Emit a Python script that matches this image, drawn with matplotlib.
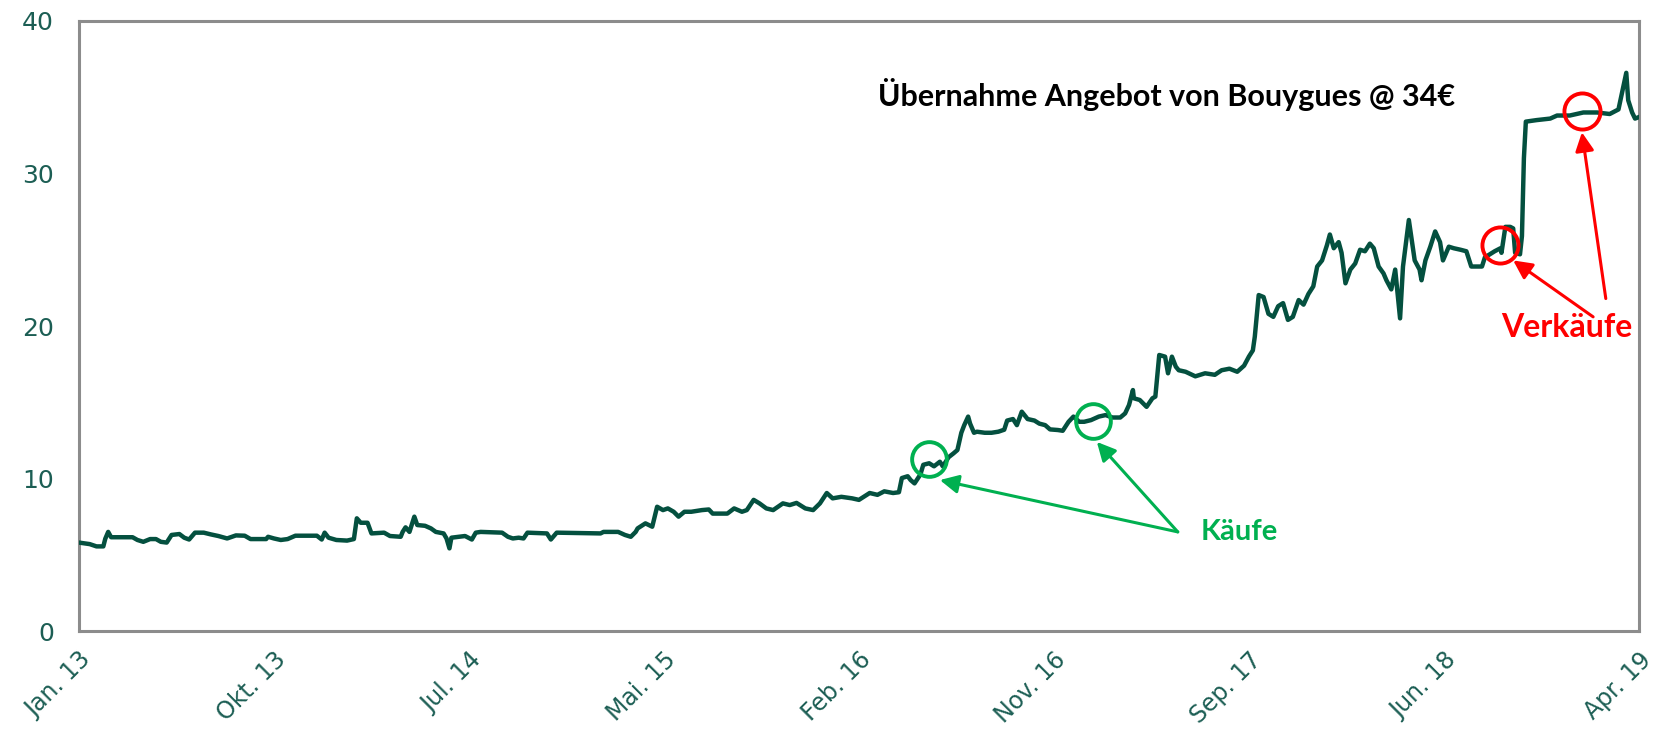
import numpy as np
import matplotlib
matplotlib.use("Agg")
import matplotlib.pyplot as plt

# trading-day index (0 = Jan. 13) and share price in EUR
day = [0, 11, 18, 25, 27, 30, 33, 55, 60, 66, 73, 79, 84, 90, 95, 103, 108, 113, 119, 128,
       135, 143, 152, 161, 170, 176, 192, 194, 200, 207, 214, 222, 244, 249, 252, 256, 264,
       275, 282, 285, 289, 296, 300, 313, 319, 330, 332, 335, 339, 344, 347, 355, 361, 366,
       374, 377, 380, 382, 396, 403, 407, 412, 434, 440, 445, 451, 456, 460, 480, 484, 490,
       535, 538, 553, 560, 566, 571,
       573, 581, 588, 593, 599, 604, 610, 615, 621, 628, 639, 646, 650, 665, 672, 680, 685,
       692, 698, 705, 712, 722, 729, 736, 745, 753, 760, 767, 773, 782, 793, 800, 811, 819,
       826, 835, 841, 844, 850, 853, 857, 863, 866, 872, 877, 883, 886, 890, 892, 897, 901,
       905, 908, 912, 914, 918, 921, 929, 936, 943, 949, 952, 958, 962, 967, 973, 980, 985,
       991, 996, 1004, 1009, 1015, 1020, 1026, 1031, 1038, 1046, 1053, 1060, 1068, 1073,
       1077, 1081, 1082, 1088, 1095, 1101, 1104, 1106, 1108, 1114, 1117, 1121, 1125, 1128,
       1135, 1145, 1155, 1165, 1172, 1180, 1188, 1195, 1200, 1204,
       1206, 1210, 1215, 1220, 1225, 1230, 1235, 1240, 1245, 1251, 1256, 1261, 1266, 1270,
       1275, 1280, 1283, 1287, 1292, 1295, 1299, 1304, 1309, 1314, 1319, 1324, 1328, 1333,
       1338, 1341, 1346, 1350, 1355, 1358, 1364, 1367, 1370, 1375, 1377, 1381, 1386, 1391,
       1396, 1399, 1405, 1410, 1417, 1423, 1428, 1434, 1439, 1442, 1447, 1452, 1458, 1459,
       1463, 1468, 1471, 1473, 1478, 1480, 1482, 1484, 1495, 1509, 1516, 1529, 1543, 1557,
       1570, 1579, 1581, 1587, 1589, 1593, 1596, 1600]
price = [5.8, 5.7, 5.55, 5.55, 6.05, 6.5, 6.15, 6.15, 5.97, 5.85, 6.03, 6.03, 5.85, 5.8, 6.3,
         6.36, 6.12, 6.0, 6.45, 6.45, 6.34, 6.23, 6.07, 6.27, 6.25, 6.03, 6.03, 6.18, 6.07,
         5.97, 6.03, 6.25, 6.25, 6.0, 6.45, 6.12, 5.97, 5.93, 6.03, 7.39, 7.1, 7.1, 6.4, 6.45,
         6.23, 6.18, 6.5, 6.8, 6.5, 7.5, 6.95, 6.9, 6.73, 6.5, 6.4, 6.07, 5.42, 6.12, 6.23,
         6.0, 6.45, 6.5, 6.45, 6.18, 6.07, 6.12, 6.07, 6.45, 6.4, 6.0, 6.45, 6.4, 6.5, 6.5,
         6.3, 6.18, 6.5,
         6.73, 7.06, 6.84, 8.15, 7.93, 8.04, 7.82, 7.5, 7.82, 7.82, 7.93, 7.97, 7.7, 7.7,
         8.04, 7.82, 7.93, 8.6, 8.37, 8.04, 7.93, 8.37, 8.26, 8.4, 8.04, 7.93, 8.37, 9.05,
         8.7, 8.8, 8.7, 8.6, 9.05, 8.93, 9.16, 9.05, 9.1, 10.03, 10.15, 9.9, 9.68, 10.26,
         10.9, 11.0, 10.8, 11.1, 10.8, 11.2, 11.4, 11.65, 11.87, 13.0, 13.5, 14.06, 13.6,
         13.0, 13.07, 13.0, 13.0, 13.07, 13.2, 13.8, 13.9, 13.5, 14.38, 13.9, 13.8, 13.6,
         13.5, 13.22, 13.18, 13.13, 13.72, 14.06, 13.72, 13.72, 13.83, 14.06, 14.16, 14.0,
         14.0, 14.27, 14.82, 15.8, 15.26, 15.15, 14.7, 15.26, 15.37, 16.7, 18.1, 17.99, 16.9,
         17.99, 17.33, 17.1,
         17.0, 16.7, 16.9, 16.8, 17.1, 17.2, 17.0, 17.4, 18.0, 18.4,
         19.3, 22.03, 21.9, 20.8, 20.6, 21.3, 21.5, 20.4, 20.6, 21.7, 21.4, 22.1, 22.6, 23.9,
         24.3, 25.3, 26.0, 25.1, 25.5, 24.8, 22.8, 23.7, 24.1, 25.0, 24.9, 25.4, 25.1, 23.9,
         23.45, 23.0, 22.4, 23.7, 20.5, 23.9, 26.95, 25.6, 24.3, 23.7, 23.0, 24.3, 25.2, 26.2,
         25.5, 24.3, 25.2, 25.1, 25.0, 24.9, 23.9, 23.9, 23.9, 24.5, 24.7, 24.9, 25.1, 24.8,
         26.5, 26.5, 26.4, 24.8, 24.7, 25.9, 31.0, 33.4, 33.5, 33.6, 33.8, 33.8, 34.0, 34.0,
         33.9, 34.2, 34.8, 36.6, 34.8, 34.0, 33.6, 33.7]

tick_days = [0, 200, 400, 600, 800, 1000, 1200, 1400, 1600]
tick_labels = ["Jan. 13", "Okt. 13", "Jul. 14", "Mai. 15", "Feb. 16",
               "Nov. 16", "Sep. 17", "Jun. 18", "Apr. 19"]

buys = [(872, 11.3), (1040, 13.8)]
sells = [(1458, 25.3), (1542, 34.1)]

line_col = "#04503F"
tick_col = "#1C5E54"
green = "#00B050"
red = "#FF0000"

fig = plt.figure(figsize=(16.55, 7.41), dpi=100)
ax = fig.add_axes([0.0477, 0.1484, 0.9426, 0.8233])

ax.plot(day, price, color=line_col, lw=3.2, solid_joinstyle="round", zorder=3)

ax.set_xlim(0, 1600)
ax.set_ylim(0, 40)
ax.set_yticks([0, 10, 20, 30, 40])
ax.set_xticks(tick_days)
ax.set_xticklabels(tick_labels, rotation=45, ha="right", rotation_mode="anchor")
ax.tick_params(length=0, colors=tick_col)
ax.tick_params(axis="y", pad=18, labelsize=18)
ax.tick_params(axis="x", pad=12, labelsize=17)
for lab in ax.get_xticklabels() + ax.get_yticklabels():
    lab.set_fontfamily("DejaVu Sans")
for sp in ax.spines.values():
    sp.set_color("#8C8C8C")
    sp.set_linewidth(2.2)

# circles on the trades
bx, by = zip(*buys)
ax.plot(bx, by, "o", ms=25, mfc="none", mec=green, mew=2.8, zorder=4)
sx, sy = zip(*sells)
ax.plot(sx, sy, "o", ms=26, mfc="none", mec=red, mew=2.8, zorder=4)

arrow_g = dict(arrowstyle="-|>", color=green, lw=2.2, mutation_scale=28, shrinkA=0, shrinkB=0)
ax.annotate("", xy=(883, 9.9), xytext=(1127, 6.5), arrowprops=arrow_g, zorder=5)
ax.annotate("", xy=(1044, 12.4), xytext=(1127, 6.5), arrowprops=arrow_g, zorder=5)
ax.text(1190, 6.5, "Käufe", color=green, fontsize=21, fontweight="bold",
        family="Lato", ha="center", va="center")

arrow_r = dict(arrowstyle="-|>", color=red, lw=2.2, mutation_scale=28, shrinkA=0, shrinkB=0)
ax.annotate("", xy=(1471, 24.3), xytext=(1553, 20.6), arrowprops=arrow_r, zorder=5)
ax.annotate("", xy=(1541.5, 32.7), xytext=(1566, 21.8), arrowprops=arrow_r, zorder=5)
ax.text(1526, 19.9, "Verkäufe", color=red, fontsize=23, fontweight="bold",
        family="Lato", ha="center", va="center", clip_on=False)

ax.text(820, 35.15, "Übernahme Angebot von Bouygues @ 34€", color="black", fontsize=22,
        fontweight="bold", family="Lato", ha="left", va="center")

fig.savefig("out.png", dpi=100, facecolor="white")
